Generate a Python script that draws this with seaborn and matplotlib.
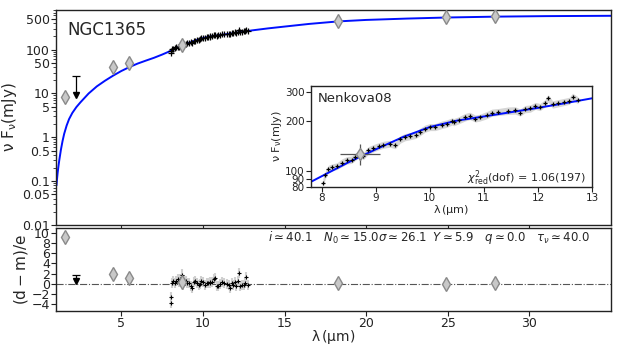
import numpy as np
import pandas as pd
import matplotlib
matplotlib.use("Agg")
import matplotlib.pyplot as plt
import matplotlib.ticker as ticker
import seaborn as sns

# --- model SED ---
model_wave = [1.03, 1.06, 1.1, 1.15, 1.2, 1.3, 1.4, 1.5, 1.65, 1.8, 2.0, 2.25, 2.5, 3.0,
              3.5, 4.0, 4.5, 5.0, 5.5, 6.0, 6.5, 7.0, 7.5, 7.8, 8.0, 8.5, 9.0, 9.5,
              10.0, 10.5, 11.0, 11.5, 12.0, 12.5, 13.0, 14.0, 15.0, 16.5, 18.3, 20.0,
              22.5, 25.0, 28.0, 31.0, 35.0]
model_flux = [0.08, 0.11, 0.155, 0.22, 0.3, 0.52, 0.82, 1.2, 1.85, 2.6, 3.6, 4.9, 6.3, 10,
              14.5, 19.5, 25.5, 32.5, 40, 48, 56, 65, 77, 86, 93, 113, 135, 160,
              184, 201, 213, 226, 240, 256, 274, 305, 335, 385, 440, 475,
              510, 540, 565, 580, 590]

# --- IR spectrum (black crosses) ---
spec_wave = [8.02, 8.06, 8.12, 8.18, 8.28, 8.37, 8.46, 8.55, 8.61, 8.69, 8.77, 8.86, 8.95,
             9.05, 9.14, 9.26, 9.36, 9.45, 9.54, 9.63, 9.74, 9.82, 9.91, 10.00, 10.10,
             10.22, 10.31, 10.41, 10.44, 10.53, 10.65, 10.74, 10.84, 10.93, 11.05, 11.15,
             11.27, 11.45, 11.58, 11.67, 11.76, 11.86, 11.95, 12.04, 12.13, 12.19, 12.27,
             12.37, 12.49, 12.58, 12.64, 12.74]
spec_flux = [85, 94, 103, 105, 107, 112, 116, 117, 121, 127, 123, 133, 137,
             141, 144, 146, 143, 155, 160, 162, 165, 172, 180, 184, 184,
             190, 193, 199, 197, 202, 211, 215, 207, 210, 217, 225,
             227, 231, 232, 225, 236, 238, 247, 243, 256, 274, 252,
             256, 261, 265, 280, 267]
spec_err = [5, 5, 5, 5, 5, 6, 6, 6, 6, 6, 6, 7, 7,
            7, 7, 7, 7, 8, 8, 8, 8, 9, 9, 9, 9,
            10, 10, 10, 10, 10, 11, 11, 10, 10, 11, 11,
            11, 12, 12, 11, 12, 12, 12, 12, 13, 14, 13,
            13, 13, 13, 14, 13]
spec_resid = [-3.8, -2.7, 0.2, 0.5, 0.1, 0.6, 0.9, 0.4, 1.0, 1.8, -0.3, 0.8, 0.5,
              0.2, 0.1, -0.4, -0.9, 0.3, 0.5, 0.2, -0.3, 0.0, 0.6, 0.3, -0.2,
              0.1, 0.2, 0.4, 0.1, 0.3, 1.0, 1.1, -0.5, -0.4, 0.0, 0.4,
              0.2, -0.1, -0.3, -0.9, 0.1, -0.2, 0.3, -0.4, 0.6, 2.1, -0.5,
              -0.3, -0.2, 0.2, 1.4, -0.3]

# --- photometry (grey diamonds) ---
phot_wave = [1.55, 4.47, 5.49, 8.7, 18.3, 24.9, 27.9]
phot_flux = [8.2, 40, 49, 127, 450, 540, 570]
phot_yerr = [0.5, 6, 7, 19, 40, 50, 55]
phot_xerr = [0, 0, 0, 0.37, 0, 0, 0]
phot_resid = [9.3, 1.9, 1.2, 0.3, 0.05, -0.1, 0.1]
phot_resid_err = [0.6, 0.7, 0.7, 1.0, 0.6, 0.7, 0.7]

# --- upper limit ---
ulim_wave = [2.22]
ulim_top = [25]
ulim_head = [9]
ulim_resid_top = [1.8]
ulim_resid_head = [0.6]

main_yticks = [0.01, 0.05, 0.1, 0.5, 1, 5, 10, 50, 100, 500]
main_ylabels = ["0.01", "0.05", "0.1", "0.5", "1", "5", "10", "50", "100", "500"]
inset_yticks = [80, 90, 100, 200, 300]
resid_yticks = [-4, -2, 0, 2, 4, 6, 8, 10]
x_ticks = [5, 10, 15, 20, 25, 30]
inset_xticks = [8, 9, 10, 11, 12, 13]

sns.set_theme(style="ticks")
plt.rcParams["font.family"] = ["DejaVu Sans"]
plt.rcParams["mathtext.fontset"] = "dejavusans"

model = pd.DataFrame({"wave": model_wave, "flux": model_flux})
spec = pd.DataFrame({"wave": spec_wave, "flux": spec_flux, "err": spec_err, "resid": spec_resid})

fig = plt.figure(figsize=(6.23, 3.46), dpi=100)
ax = fig.add_axes([0.0899, 0.3497, 0.8909, 0.6214])
axr = fig.add_axes([0.0899, 0.1012, 0.8909, 0.2399], sharex=ax)
axi = fig.add_axes([0.4992, 0.4595, 0.451, 0.2919])

grey_face = "#c8c8c8"
grey_edge = "#8a8a8a"


def style_axis(a, size):
    for s in a.spines.values():
        s.set_visible(True)
        s.set_color("#222222")
        s.set_linewidth(1.0)
    a.tick_params(axis="both", which="major", direction="out", length=3.5, width=0.8,
                  labelsize=size, pad=1, top=False, right=False, colors="#222222")
    a.tick_params(axis="both", which="minor", direction="out", length=2, width=0.6,
                  top=False, right=False)


def draw_sed(a, ms):
    a.fill_between(spec["wave"], spec["flux"] - spec["err"], spec["flux"] + spec["err"],
                   color="#bbbbbb", alpha=0.6, lw=0, zorder=1)
    sns.lineplot(data=model, x="wave", y="flux", ax=a, color="#0010ff", lw=1.4, zorder=2)
    a.errorbar(spec["wave"], spec["flux"], fmt="+", color="black", ms=ms, mew=0.9, zorder=3)


def draw_limit(a, x, top, head, ms):
    a.errorbar(x, top, yerr=[[top[0] - head[0]], [0]], fmt="none",
               ecolor="black", elinewidth=0.9, capsize=0, zorder=4)
    a.plot(x, top, "_", color="black", ms=6, mew=0.9, zorder=4)
    a.plot(x, head, "v", color="black", ms=ms, zorder=5)


# --- main panel ---
draw_sed(ax, 4)
ax.errorbar(phot_wave, phot_flux, yerr=phot_yerr, fmt="d", ms=7, mfc=grey_face, mec=grey_edge,
            ecolor=grey_edge, elinewidth=1, capsize=0, zorder=4)
draw_limit(ax, ulim_wave, ulim_top, ulim_head, 5)
ax.set_yscale("log")
ax.set_ylim(0.01, 800)
ax.set_xlim(1, 35)
ax.set_yticks(main_yticks)
ax.set_yticklabels(main_ylabels)
ax.yaxis.set_minor_locator(ticker.LogLocator(base=10, subs=np.arange(2, 10) * 1.0, numticks=20))
ax.yaxis.set_minor_formatter(ticker.NullFormatter())
ax.set_xlabel("")
ax.set_ylabel(r"$\mathrm{\nu\ F_{\nu}(mJy)}$", fontsize=11, labelpad=2)
style_axis(ax, 9)
plt.setp(ax.get_xticklabels(), visible=False)
ax.text(0.02, 0.905, "NGC1365", transform=ax.transAxes, fontsize=12, ha="left", va="center")

# --- inset ---
draw_sed(axi, 3)
axi.errorbar([phot_wave[3]], [phot_flux[3]], yerr=[phot_yerr[3]], xerr=[phot_xerr[3]], fmt="d",
             ms=6, mfc=grey_face, mec=grey_edge, ecolor="#555555", elinewidth=0.9, zorder=4)
axi.set_yscale("log")
axi.set_xlim(7.8, 13)
axi.set_ylim(80, 325)
axi.set_yticks(inset_yticks)
axi.set_yticklabels([str(t) for t in inset_yticks])
axi.yaxis.set_minor_locator(ticker.NullLocator())
axi.set_xticks(inset_xticks)
axi.set_xlabel(r"$\mathrm{\lambda\,(\mu m)}$", fontsize=8, labelpad=0)
axi.set_ylabel(r"$\mathrm{\nu\ F_{\nu}(mJy)}$", fontsize=8, labelpad=1)
style_axis(axi, 7.5)
axi.text(0.025, 0.88, "Nenkova08", transform=axi.transAxes, fontsize=9.5, ha="left", va="center")
axi.text(0.98, 0.09, r"$\chi^2_{\rm red}$(dof) = 1.06(197)", transform=axi.transAxes,
         fontsize=8, ha="right", va="center")

# --- residual panel ---
axr.axhline(0, color="#555555", lw=0.8, ls="-.", zorder=1)
axr.errorbar(spec["wave"], spec["resid"], yerr=1, fmt="+", color="black", ms=3.5, mew=0.8,
             ecolor="#d0d0d0", elinewidth=1.5, zorder=3)
axr.errorbar(phot_wave, phot_resid, yerr=phot_resid_err, fmt="d", ms=7, mfc=grey_face,
             mec=grey_edge, ecolor=grey_edge, elinewidth=1, zorder=4)
draw_limit(axr, ulim_wave, ulim_resid_top, ulim_resid_head, 5)
axr.set_ylim(-5.4, 11)
axr.set_yticks(resid_yticks)
axr.set_xticks(x_ticks)
axr.set_xlim(1, 35)
axr.set_xlabel(r"$\mathrm{\lambda\,(\mu m)}$", fontsize=10, labelpad=-1.5)
axr.set_ylabel(r"$\mathrm{(d-m)/e}$", fontsize=11, labelpad=1)
style_axis(axr, 9)
axr.text(0.962, 0.88,
         r"$i \simeq 40.1\quad N_0 \simeq 15.0\sigma \simeq 26.1\;\; Y \simeq 5.9\quad"
         r" q \simeq 0.0\quad \tau_\nu \simeq 40.0$",
         transform=axr.transAxes, fontsize=8.5, ha="right", va="center")

fig.savefig("out.png", dpi=100)
